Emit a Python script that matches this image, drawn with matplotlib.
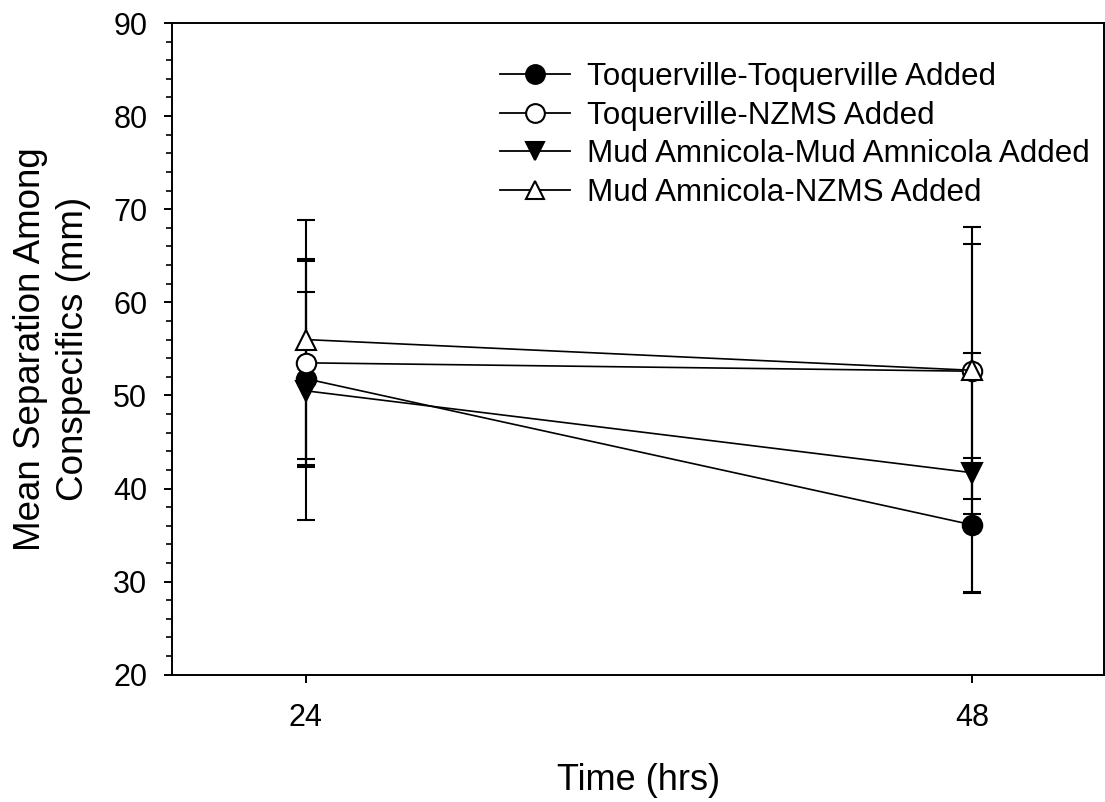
import numpy as np
import matplotlib
matplotlib.use("Agg")
import matplotlib.pyplot as plt
from matplotlib.ticker import MultipleLocator
from matplotlib.lines import Line2D

plt.rcParams['font.family'] = ['Liberation Sans', 'DejaVu Sans']

# data (means +/- SE, mm)
hours = [24, 48]
series_names = [
    "Toquerville-Toquerville Added",
    "Toquerville-NZMS Added",
    "Mud Amnicola-Mud Amnicola Added",
    "Mud Amnicola-NZMS Added",
]
toq_toq_mean = [51.8, 36.1]
toq_toq_se = [9.3, 7.2]
toq_nzms_mean = [53.5, 52.6]
toq_nzms_se = [11.2, 13.7]
mud_mud_mean = [50.5, 41.7]
mud_mud_se = [13.9, 12.9]
mud_nzms_mean = [56.0, 52.7]
mud_nzms_se = [12.8, 15.4]

means = [toq_toq_mean, toq_nzms_mean, mud_mud_mean, mud_nzms_mean]
errs = [toq_toq_se, toq_nzms_se, mud_mud_se, mud_nzms_se]
markers = ['o', 'o', 'v', '^']
faces = ['black', 'white', 'black', 'white']

fig = plt.figure(figsize=(11.05, 8.02), dpi=100)
ax = fig.add_axes([0.1559, 0.1587, 0.8432, 0.8126])

handles = []
for name, m, e, mk, fc in zip(series_names, means, errs, markers, faces):
    ax.errorbar(hours, m, yerr=e, color='black', lw=1.2, marker=mk,
                markersize=14, markerfacecolor=fc, markeredgecolor='black',
                markeredgewidth=1.5, ecolor='black', elinewidth=1.5,
                capsize=6.5, capthick=1.5)
    # legend entries show only line + marker, no error bars
    handles.append(Line2D([], [], color='black', lw=1.3, marker=mk,
                          markersize=13.5, markerfacecolor=fc,
                          markeredgecolor='black', markeredgewidth=1.5,
                          label=name))

ax.set_xlim(19.2, 52.75)
ax.set_ylim(20, 90)
ax.set_xticks(hours)
ax.yaxis.set_major_locator(MultipleLocator(10))
ax.yaxis.set_minor_locator(MultipleLocator(2))

for sp in ax.spines.values():
    sp.set_linewidth(1.4)
ax.tick_params(axis='both', which='major', direction='out', length=6,
               width=1.4, labelsize=22)
ax.tick_params(axis='y', which='major', pad=12)
ax.tick_params(axis='x', which='major', pad=14)
ax.tick_params(axis='y', which='minor', direction='out', length=4.3, width=1.2)
ax.tick_params(top=False, right=False)

ax.set_xlabel("Time (hrs)", fontsize=26, labelpad=22)
ax.set_ylabel("Mean Separation Among\nConspecifics (mm)", fontsize=26.5,
              labelpad=16, linespacing=1.28)

ax.legend(handles=handles, loc='upper left', bbox_to_anchor=(0.321, 0.983),
          frameon=False, fontsize=22.6, handlelength=2.23, handletextpad=0.57,
          labelspacing=0.27)

fig.savefig("out.png", dpi=100)
